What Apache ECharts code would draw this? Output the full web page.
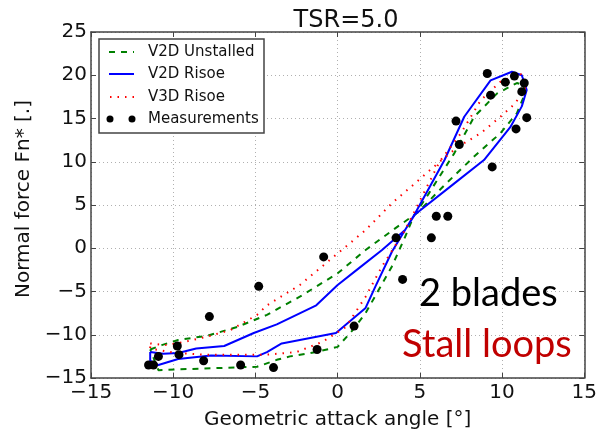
<!DOCTYPE html>
<html>
<head>
<meta charset="utf-8">
<script src="https://cdn.jsdelivr.net/npm/echarts@6/dist/echarts.min.js"></script>
<style>
  html, body { margin: 0; padding: 0; background: #fff; }
  #chart { width: 600px; height: 435px; }
</style>
</head>
<body>
<div id="chart"></div>
<script>
// Normal force loops vs geometric attack angle, TSR = 5.0 (two blades)
const xTicks = [-15, -10, -5, 0, 5, 10, 15];
const yTicks = [-15, -10, -5, 0, 5, 10, 15, 20, 25];

// V2D, unstalled model: closed loop over one revolution
const unstalledLoop = [
  [-11.4, -11.7], [-10.7, -11.2], [-9.7, -10.6], [-7.9, -10.1], [-6.1, -9.1],
  [-4.3, -7.7], [-2.3, -5.6], [0.0, -2.9], [1.7, -0.2], [3.5, 2.3], [4.85, 4.1],
  [6.5, 7.3], [8.3, 10.6], [9.9, 13.3], [10.9, 15.6], [11.4, 17.9], [11.3, 18.9],
  [10.9, 19.1], [9.7, 17.9], [8.3, 15.2], [7.1, 11.0], [5.5, 6.2], [4.6, 3.6],
  [4.1, 1.3], [3.3, -2.1], [2.5, -4.8], [1.7, -7.5], [0.9, -9.5], [0.0, -11.4],
  [-1.3, -12.0], [-2.9, -12.5], [-3.7, -12.9], [-4.9, -13.7], [-9.7, -14.0],
  [-10.9, -14.1], [-11.4, -11.7]
];

// V2D with Risoe dynamic stall model
const risoeLoop = [
  [-11.4, -12.0], [-10.6, -12.2], [-9.7, -12.1], [-8.6, -11.6], [-6.9, -11.3],
  [-5.1, -9.8], [-3.7, -8.8], [-2.5, -7.7], [-1.3, -6.6], [0.0, -4.25], [1.3, -2.3],
  [2.7, -0.2], [4.1, 2.1], [4.7, 3.9], [7.1, 7.5], [8.9, 10.2], [10.5, 14.0],
  [11.2, 16.4], [11.5, 18.3], [11.2, 20.0], [10.6, 20.4], [9.3, 19.4], [7.7, 15.2],
  [6.5, 10.2], [4.7, 4.0], [3.3, -0.4], [2.3, -4.4], [1.7, -6.9], [-0.1, -9.8],
  [-3.4, -11.0], [-4.3, -12.0], [-4.9, -12.5], [-7.7, -12.4], [-9.7, -12.8],
  [-10.9, -13.5], [-11.4, -13.0], [-11.4, -12.0]
];

// V3D with Risoe dynamic stall model
const risoe3dLoop = [
  [-11.4, -11.0], [-10.5, -11.2], [-9.5, -10.9], [-7.9, -10.2], [-6.5, -9.45],
  [-4.9, -7.7], [-4.3, -6.6], [-2.3, -4.25], [0.0, -0.6], [1.7, 2.1], [3.3, 5.2],
  [4.7, 7.5], [6.2, 10.0], [7.3, 11.7], [8.7, 13.3], [9.9, 15.2], [10.8, 16.75],
  [11.4, 18.5], [11.3, 19.8], [11.1, 20.2], [9.9, 19.25], [8.7, 17.1], [7.5, 13.3],
  [6.2, 10.0], [4.1, 2.1], [2.7, -2.1], [1.7, -5.6], [0.5, -9.1], [-0.9, -10.8],
  [-2.5, -12.0], [-4.3, -12.3], [-8.1, -12.3], [-9.9, -12.1], [-11.4, -11.6],
  [-11.4, -11.0]
];

// Measured normal force
const measurements = [
  [-11.5, -13.5], [-11.2, -13.5], [-10.9, -12.5], [-9.75, -11.3], [-9.65, -12.3],
  [-8.15, -13.0], [-7.8, -7.9], [-5.9, -13.5], [-4.8, -4.4], [-3.9, -13.8],
  [-1.25, -11.7], [-0.85, -1.0], [1.0, -9.0], [3.55, 1.2], [3.95, -3.6],
  [5.7, 1.2], [6.0, 3.7], [6.7, 3.7], [7.2, 14.7], [7.4, 12.0], [9.1, 20.2],
  [9.3, 17.7], [9.4, 9.4], [10.2, 19.2], [10.75, 19.9], [10.85, 13.8],
  [11.2, 18.1], [11.35, 19.1], [11.5, 15.1]
];

const legendNames = ['V2D Unstalled', 'V2D Risoe', 'V3D Risoe', 'Measurements'];
const seriesColors = ['#008000', '#0000ff', '#ff0000', '#000000'];

const FONT = 'DejaVu Sans';
const minus = v => String(v).replace('-', '\u2212');
const frame = { lineStyle: { color: '#444', width: 1.5 } };
const innerTicks = { show: true, inside: true, length: 5, lineStyle: { color: '#444' } };
const gridDots = { show: true, lineStyle: { color: '#b0b0b0', type: [1, 3], width: 1 } };

function xAxisDef(pos, withLabels) {
  return {
    type: 'value', position: pos, min: xTicks[0], max: xTicks[xTicks.length - 1], interval: 5,
    axisLine: { show: true, onZero: false, ...frame },
    axisTick: innerTicks,
    splitLine: withLabels ? gridDots : { show: false },
    axisLabel: withLabels ? { show: true, fontFamily: FONT, fontSize: 20, color: '#111', margin: 5, formatter: minus } : { show: false },
    name: withLabels ? 'Geometric attack angle [\u00b0]' : '',
    nameLocation: 'middle', nameGap: 32,
    nameTextStyle: { fontFamily: FONT, fontSize: 20, color: '#111' }
  };
}
function yAxisDef(pos, withLabels) {
  return {
    type: 'value', position: pos, min: yTicks[0], max: yTicks[yTicks.length - 1], interval: 5,
    axisLine: { show: true, onZero: false, ...frame },
    axisTick: innerTicks,
    splitLine: withLabels ? gridDots : { show: false },
    axisLabel: withLabels ? { show: true, fontFamily: FONT, fontSize: 20, color: '#111', margin: 4, formatter: minus } : { show: false },
    name: withLabels ? 'Normal force Fn* [.]' : '',
    nameLocation: 'middle', nameGap: 54, nameRotate: 90,
    nameTextStyle: { fontFamily: FONT, fontSize: 20, color: '#111', padding: [0, 0, 0, 12] }
  };
}

function loopSeries(name, data, color, type) {
  return {
    name, type: 'line', data, xAxisIndex: 0, yAxisIndex: 0,
    showSymbol: false, symbol: 'none', smooth: false, z: 3,
    lineStyle: { color, width: 2, type }
  };
}

// Legend drawn as a framed box in the upper-left corner of the plot
const legendRows = [52, 74, 97, 119];
const legendGraphics = [
  { type: 'rect', shape: { x: 99, y: 39, width: 165, height: 94 },
    style: { fill: '#fff', stroke: '#444', lineWidth: 1.5 }, z: 10 },
  { type: 'line', shape: { x1: 109, y1: legendRows[0], x2: 134, y2: legendRows[0] },
    style: { stroke: seriesColors[0], lineWidth: 2, lineDash: [6, 6] }, z: 11 },
  { type: 'line', shape: { x1: 109, y1: legendRows[1], x2: 134, y2: legendRows[1] },
    style: { stroke: seriesColors[1], lineWidth: 2 }, z: 11 },
  { type: 'line', shape: { x1: 110, y1: legendRows[2], x2: 134, y2: legendRows[2] },
    style: { stroke: seriesColors[2], lineWidth: 2, lineDash: [1.5, 6] }, z: 11 },
  { type: 'circle', shape: { cx: 110, cy: legendRows[3], r: 3.5 }, style: { fill: '#000' }, z: 11 },
  { type: 'circle', shape: { cx: 132, cy: legendRows[3], r: 3.5 }, style: { fill: '#000' }, z: 11 }
].concat(legendNames.map((t, i) => ({
  type: 'text', x: 148, y: legendRows[i], z: 11,
  style: { text: t, fontFamily: FONT, fontSize: 15, fill: '#111', verticalAlign: 'middle' }
}))).concat([
  { type: 'text', x: 419, y: 294, z: 12,
    style: { text: '2 blades', fontFamily: 'Lato', fontSize: 38, fill: '#000', verticalAlign: 'middle' } },
  { type: 'text', x: 402, y: 345, z: 12,
    style: { text: 'Stall loops', fontFamily: 'Lato', fontSize: 38, fill: '#c00000', verticalAlign: 'middle' } }
]);

const chart = echarts.init(document.getElementById('chart'), null, { renderer: 'canvas' });
chart.setOption({
  animation: false,
  backgroundColor: '#fff',
  title: {
    text: 'TSR=5.0', left: 341, top: 4, textAlign: 'center',
    textStyle: { fontFamily: FONT, fontSize: 24, fontWeight: 'normal', color: '#111' }
  },
  grid: { left: 91, right: 9, top: 32, bottom: 57, containLabel: false },
  xAxis: [xAxisDef('bottom', true), xAxisDef('top', false)],
  yAxis: [yAxisDef('left', true), yAxisDef('right', false)],
  graphic: legendGraphics,
  series: [
    loopSeries(legendNames[0], unstalledLoop, seriesColors[0], [6, 6]),
    loopSeries(legendNames[1], risoeLoop, seriesColors[1], 'solid'),
    loopSeries(legendNames[2], risoe3dLoop, seriesColors[2], [1.5, 6]),
    {
      name: legendNames[3], type: 'scatter', data: measurements, z: 4,
      symbol: 'circle', symbolSize: 9, itemStyle: { color: seriesColors[3], opacity: 1 }
    }
  ]
});
</script>
</body>
</html>
